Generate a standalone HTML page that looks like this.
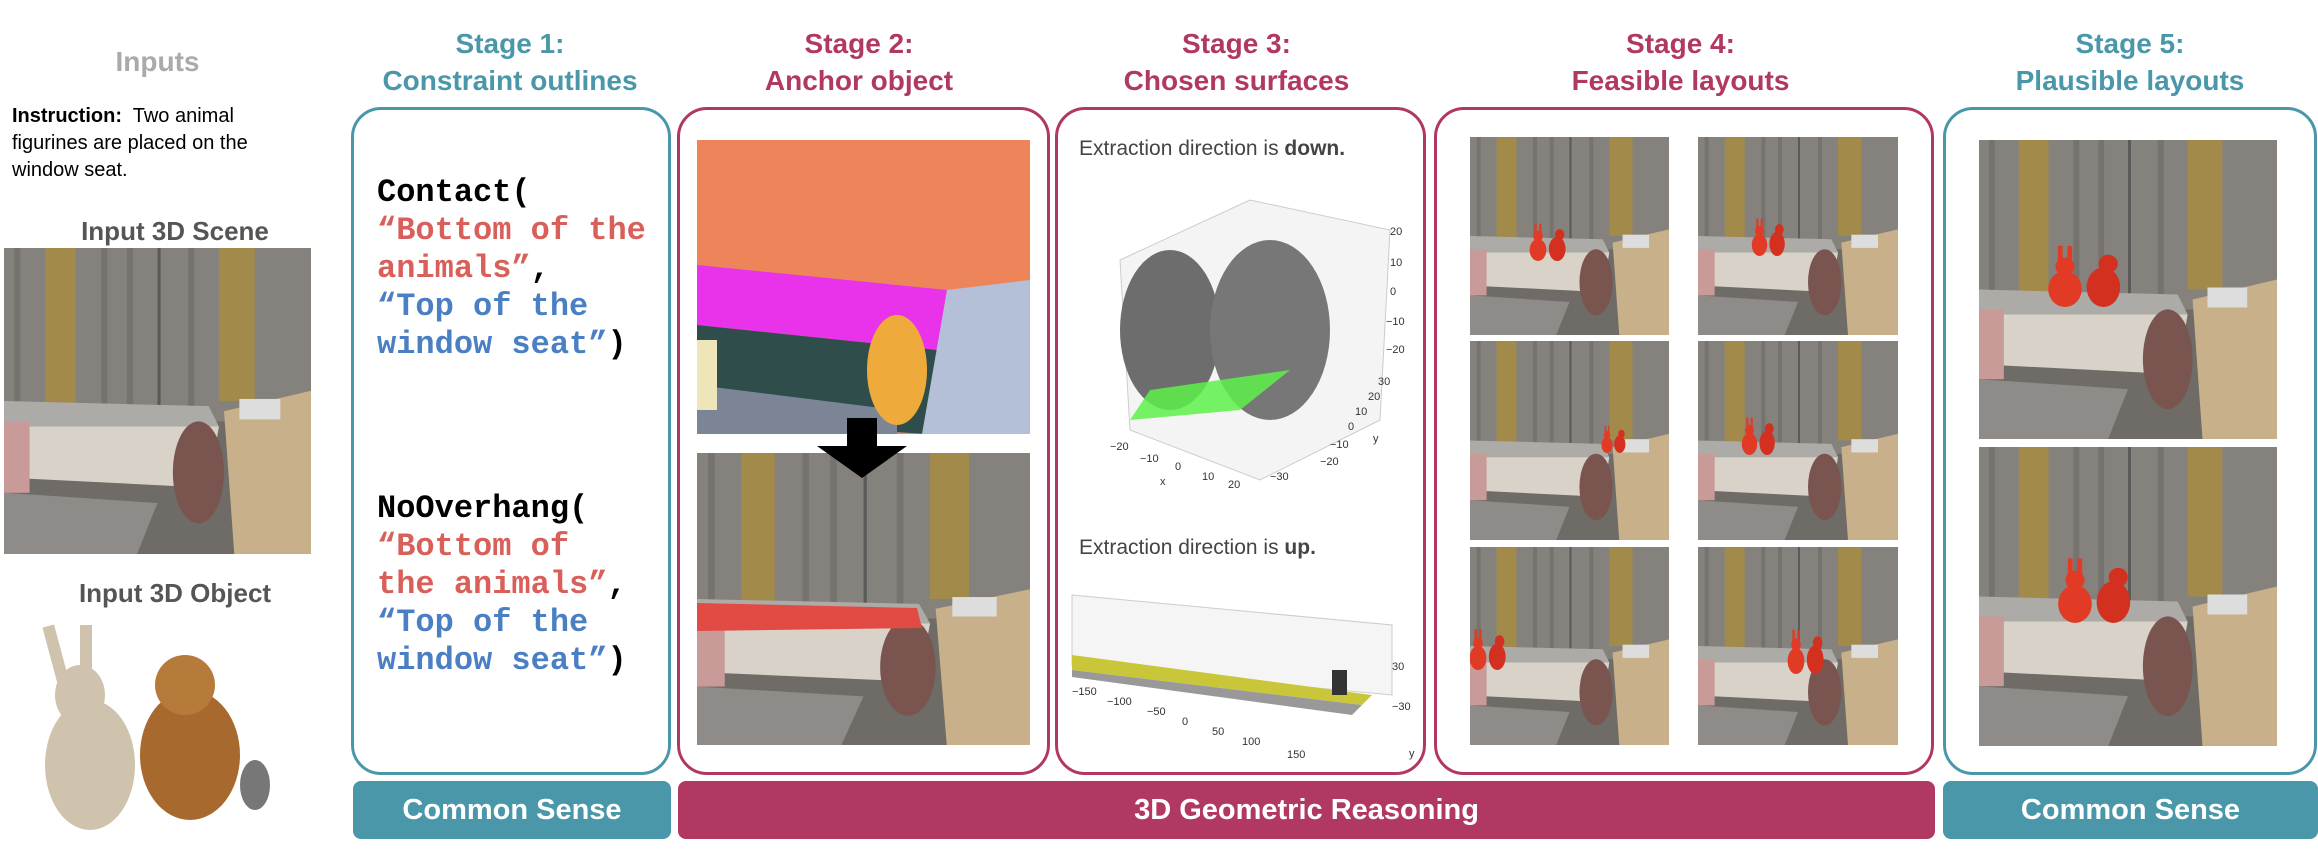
<!DOCTYPE html>
<html><head><meta charset="utf-8">
<style>
body{margin:0;width:2318px;height:850px;background:#fff;position:relative;overflow:hidden;font-family:"Liberation Sans",sans-serif}
.a{position:absolute}
.hd{position:absolute;font-weight:bold;font-size:28px;text-align:center;line-height:37px}
.teal{color:#4a97aa}.mag{color:#b03862}
.box{position:absolute;border:3px solid;border-radius:30px;box-sizing:border-box}
.bar{position:absolute;top:781px;height:58px;border-radius:8px;color:#fff;font-weight:bold;font-size:29px;display:flex;align-items:center;justify-content:center}
.code{position:absolute;left:377px;font-family:"Liberation Mono",monospace;font-weight:bold;font-size:32px;line-height:38px;white-space:pre}
.r{color:#d9605a}.b{color:#4b7fc4}
svg.img{position:absolute}
</style></head><body>
<svg width="0" height="0" style="position:absolute">
<defs>
<symbol id="scene" viewBox="0 0 300 300" preserveAspectRatio="none">
<rect width="300" height="300" fill="#6f6b66"/>
<rect x="0" y="0" width="300" height="170" fill="#85827e"/>
<rect x="10" y="0" width="6" height="160" fill="#76736f"/><rect x="95" y="0" width="6" height="160" fill="#76736f"/><rect x="120" y="0" width="6" height="160" fill="#76736f"/><rect x="180" y="0" width="6" height="160" fill="#76736f"/>
<rect x="40" y="0" width="30" height="160" fill="#a28a4a"/>
<rect x="210" y="0" width="35" height="150" fill="#a28a4a"/>
<rect x="150" y="0" width="3" height="160" fill="#5a5a5a"/>
<polygon points="0,150 200,155 210,175 0,175" fill="#adaba7"/>
<polygon points="0,175 210,175 200,235 0,225" fill="#d8d2c8"/>
<rect x="0" y="170" width="25" height="70" fill="#c89a98"/>
<polygon points="0,240 150,250 130,300 0,300" fill="#8f8b89"/>
<polygon points="215,160 300,140 300,300 225,300" fill="#c8b08a"/>
<ellipse cx="190" cy="220" rx="25" ry="50" fill="#7a5550"/>
<rect x="230" y="148" width="40" height="20" fill="#ddd"/>
</symbol>
<symbol id="anim" viewBox="0 0 100 100" preserveAspectRatio="none">
<ellipse cx="30" cy="60" rx="14" ry="20" fill="#e23b25"/><ellipse cx="30" cy="35" rx="8" ry="10" fill="#e23b25"/>
<rect x="24" y="12" width="4" height="18" fill="#e23b25"/><rect x="32" y="12" width="4" height="18" fill="#e23b25"/>
<ellipse cx="62" cy="58" rx="14" ry="22" fill="#d33020"/><ellipse cx="66" cy="32" rx="8" ry="10" fill="#d33020"/>
</symbol>
</defs></svg>

<div class="hd" style="left:80px;top:43px;width:155px;color:#aaa">Inputs</div>
<div class="a" style="left:12px;top:103px;font-size:20px;line-height:27px;width:300px"><b>Instruction:</b>&nbsp; Two animal figurines are placed on the window seat.</div>
<div class="hd" style="left:30px;top:213px;width:290px;color:#555;font-size:26px">Input 3D Scene</div>
<svg class="img" style="left:4px;top:248px" width="307" height="306"><use href="#scene" width="307" height="306"/></svg>
<div class="hd" style="left:30px;top:575px;width:290px;color:#555;font-size:26px">Input 3D Object</div>
<svg class="img" style="left:20px;top:615px" width="260" height="225">
<ellipse cx="70" cy="150" rx="45" ry="65" fill="#cfc3ad"/><ellipse cx="60" cy="80" rx="25" ry="30" fill="#cfc3ad"/>
<rect x="30" y="10" width="12" height="60" fill="#cfc3ad" transform="rotate(-15 36 40)"/><rect x="60" y="10" width="12" height="60" fill="#cfc3ad"/>
<ellipse cx="170" cy="140" rx="50" ry="65" fill="#a8692f"/><ellipse cx="165" cy="70" rx="30" ry="30" fill="#b67a3a"/>
<ellipse cx="235" cy="170" rx="15" ry="25" fill="#777"/>
</svg>

<div class="hd teal" style="left:350px;top:25px;width:320px">Stage 1:<br>Constraint outlines</div>
<div class="hd mag" style="left:674px;top:25px;width:370px">Stage 2:<br>Anchor object</div>
<div class="hd mag" style="left:1051px;top:25px;width:371px">Stage 3:<br>Chosen surfaces</div>
<div class="hd mag" style="left:1431px;top:25px;width:499px">Stage 4:<br>Feasible layouts</div>
<div class="hd teal" style="left:1943px;top:25px;width:374px">Stage 5:<br>Plausible layouts</div>

<div class="box" style="left:351px;top:107px;width:320px;height:668px;border-color:#4a97aa"></div>
<div class="code" style="top:174px">Contact(
<span class="r">“Bottom of the
animals”</span>,
<span class="b">“Top of the
window seat”</span>)</div>
<div class="code" style="top:490px">NoOverhang(
<span class="r">“Bottom of
the animals”</span>,
<span class="b">“Top of the
window seat”</span>)</div>

<div class="box" style="left:677px;top:107px;width:373px;height:668px;border-color:#b03862"></div>
<svg class="img" style="left:697px;top:140px" width="333" height="294">
<rect width="333" height="294" fill="#ee855a"/>
<polygon points="0,125 250,150 240,210 0,185" fill="#e933ea"/>
<polygon points="0,185 240,210 230,294 0,280" fill="#2f4d4a"/>
<polygon points="0,245 200,270 200,294 0,294" fill="#7b8595"/>
<polygon points="250,150 333,140 333,294 225,294" fill="#b3c0d8"/>
<ellipse cx="200" cy="230" rx="30" ry="55" fill="#eeaa3a"/>
<rect x="0" y="200" width="20" height="70" fill="#eee6b8"/>
</svg>
<svg class="img" style="left:697px;top:453px" width="333" height="292">
<use href="#scene" width="333" height="292"/><polygon points="0,150 220,155 225,175 0,178" fill="#e24a44"/></svg>
<svg class="img" style="left:817px;top:418px" width="90" height="60"><rect x="30" y="0" width="30" height="28" fill="#000"/><polygon points="0,28 90,28 45,60" fill="#000"/></svg>

<div class="box" style="left:1055px;top:107px;width:371px;height:668px;border-color:#b03862"></div>
<div class="a" style="left:1079px;top:137px;font-size:21px;color:#444">Extraction direction is <b>down.</b></div>
<svg class="img" style="left:1090px;top:180px" width="330" height="320" font-family="Liberation Sans" font-size="11" fill="#333">
<polygon points="30,80 160,20 300,50 290,240 170,300 40,250" fill="#f4f4f4" stroke="#ccc"/>
<ellipse cx="80" cy="150" rx="50" ry="80" fill="#6d6d6d"/><ellipse cx="180" cy="150" rx="60" ry="90" fill="#777"/>
<polygon points="60,210 200,190 150,230 40,240" fill="#5ef04a" opacity="0.85"/>
<text x="20" y="270">−20</text><text x="50" y="282">−10</text><text x="85" y="290">0</text><text x="112" y="300">10</text><text x="138" y="308">20</text><text x="70" y="305">x</text>
<text x="300" y="55">20</text><text x="300" y="86">10</text><text x="300" y="115">0</text><text x="296" y="145">−10</text><text x="296" y="173">−20</text>
<text x="288" y="205">30</text><text x="278" y="220">20</text><text x="265" y="235">10</text><text x="258" y="250">0</text><text x="240" y="268">−10</text><text x="230" y="285">−20</text><text x="180" y="300">−30</text><text x="283" y="262">y</text>
</svg>
<div class="a" style="left:1079px;top:536px;font-size:21px;color:#444">Extraction direction is <b>up.</b></div>
<svg class="img" style="left:1062px;top:585px" width="360" height="180" font-family="Liberation Sans" font-size="11" fill="#333">
<polygon points="10,10 330,40 330,110 10,80" fill="#f5f5f5" stroke="#ccc"/>
<polygon points="10,70 310,110 300,120 10,85" fill="#c9c63a"/>
<polygon points="10,85 300,120 290,130 10,92" fill="#999"/>
<rect x="270" y="85" width="15" height="25" fill="#333"/>
<text x="10" y="110">−150</text><text x="45" y="120">−100</text><text x="85" y="130">−50</text><text x="120" y="140">0</text><text x="150" y="150">50</text><text x="180" y="160">100</text><text x="225" y="173">150</text>
<text x="330" y="85">30</text><text x="330" y="125">−30</text><text x="347" y="172">y</text>
</svg>

<div class="box" style="left:1434px;top:107px;width:500px;height:668px;border-color:#b03862"></div>
<svg class="img" style="left:1470px;top:137px" width="199" height="198"><use href="#scene" width="199" height="198"/><use href="#anim" x="50" y="80" width="60" height="55"/></svg>
<svg class="img" style="left:1698px;top:137px" width="200" height="198"><use href="#scene" width="200" height="198"/><use href="#anim" x="45" y="75" width="55" height="55"/></svg>
<svg class="img" style="left:1470px;top:341px" width="199" height="199"><use href="#scene" width="199" height="199"/><use href="#anim" x="125" y="80" width="40" height="40"/></svg>
<svg class="img" style="left:1698px;top:341px" width="200" height="199"><use href="#scene" width="200" height="199"/><use href="#anim" x="35" y="70" width="55" height="55"/></svg>
<svg class="img" style="left:1470px;top:547px" width="199" height="198"><use href="#scene" width="199" height="198"/><use href="#anim" x="-10" y="75" width="60" height="60"/></svg>
<svg class="img" style="left:1698px;top:547px" width="200" height="198"><use href="#scene" width="200" height="198"/><use href="#anim" x="80" y="75" width="60" height="65"/></svg>

<div class="box" style="left:1943px;top:107px;width:374px;height:668px;border-color:#4a97aa"></div>
<svg class="img" style="left:1979px;top:140px" width="298" height="299"><use href="#scene" width="298" height="299"/><use href="#anim" x="50" y="95" width="120" height="90"/></svg>
<svg class="img" style="left:1979px;top:447px" width="298" height="299"><use href="#scene" width="298" height="299"/><use href="#anim" x="60" y="100" width="120" height="95"/></svg>

<div class="bar" style="left:353px;width:318px;background:#4a97aa">Common Sense</div>
<div class="bar" style="left:678px;width:1257px;background:#b03862">3D Geometric Reasoning</div>
<div class="bar" style="left:1943px;width:375px;background:#4a97aa">Common Sense</div>
</body></html>
